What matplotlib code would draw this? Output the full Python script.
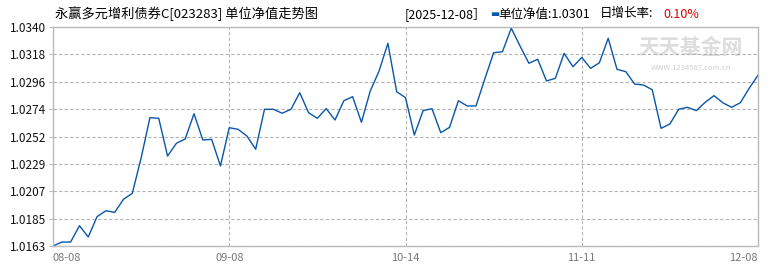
import matplotlib
matplotlib.use('Agg')
import matplotlib.pyplot as plt
import numpy as np

plt.rcParams['font.family'] = ['Noto Sans CJK SC', 'DejaVu Sans']

# unit NAV, one point per trading day, 08-08 .. 12-08
nav = [1.0163, 1.01662, 1.01662, 1.01794, 1.01703, 1.01867, 1.01915, 1.01902, 1.02008, 1.02056,
       1.02341, 1.02667, 1.02662, 1.02357, 1.02460, 1.02495, 1.02699, 1.02487, 1.02492, 1.02277,
       1.02586, 1.02573, 1.02519, 1.02412, 1.02735, 1.02735, 1.02703, 1.02735, 1.02869, 1.02707,
       1.02662, 1.02741, 1.02648, 1.02804, 1.02837, 1.02630, 1.02883, 1.03044, 1.03268, 1.02877,
       1.02829, 1.02527, 1.02724, 1.02740, 1.02546, 1.02589, 1.02804, 1.02762, 1.02762, 1.02980,
       1.03192, 1.03200, 1.03390, 1.03246, 1.03107, 1.03139, 1.02964, 1.02985, 1.03187, 1.03079,
       1.03154, 1.03066, 1.03111, 1.03309, 1.03058, 1.03039, 1.02939, 1.02931, 1.02893, 1.02581,
       1.02616, 1.02735, 1.02751, 1.02724, 1.02791, 1.02845, 1.02788, 1.02751, 1.02788, 1.02905,
       1.0301]
date_labels = ['08-08', '09-08', '10-14', '11-11', '12-08']
y_min, y_max = 1.0163, 1.0340

fund_title = '永赢多元增利债券C[023283] 单位净值走势图'
last_date = '[2025-12-08］'
last_nav = '单位净值:1.0301'
day_growth = '0.10%'

fig = plt.figure(figsize=(7.7, 2.7), dpi=100)
ax = fig.add_axes([53 / 770, 24 / 270, 705 / 770, 219 / 270])

x = np.arange(len(nav))
ax.plot(x, nav, color='#0a56a8', lw=1.0)

ax.set_xlim(0, len(nav) - 1)
ax.set_ylim(y_min, y_max)
ax.set_xticks(np.linspace(0, len(nav) - 1, len(date_labels)))
ax.set_xticklabels(date_labels, color='#777777', fontsize=8)
xl = ax.get_xticklabels()
xl[0].set_ha('left')
xl[-1].set_ha('right')
yt = np.linspace(y_min, y_max, 9)
ax.set_yticks(yt)
ax.set_yticklabels([f'{v:.4f}' for v in yt], fontsize=8.5, color='#111111')
ax.tick_params(axis='y', length=3, color='#bbbbbb', pad=2)
ax.tick_params(axis='x', length=0, pad=5)

ax.grid(True, color='#b4b4b4', ls=(0, (3, 2)), lw=0.8)
for s in ax.spines.values():
    s.set_color('#bbbbbb')
    s.set_linewidth(1)

# header
fig.text(55 / 770, 1 - 14 / 270, fund_title, fontsize=9.5, va='center', ha='left')
fig.text(405 / 770, 1 - 14 / 270, last_date, fontsize=9, va='center', ha='left')
fig.text(490 / 770, 1 - 14 / 270, '▬', fontsize=7, color='#0a56a8', va='center', ha='left')
fig.text(498 / 770, 1 - 14 / 270, last_nav, fontsize=9, va='center', ha='left')
fig.text(600 / 770, 1 - 14 / 270, '日增长率:', fontsize=9, va='center', ha='left')
fig.text(663 / 770, 1 - 14 / 270, day_growth, fontsize=9, color='#dd0000', va='center', ha='left')

# watermark
ax.text(0.905, 0.905, '天天基金网', transform=ax.transAxes, fontsize=15, fontweight='bold',
        color='#dddddd', ha='center', va='center', zorder=0)
ax.text(0.905, 0.815, 'WWW.1234567.com.cn', transform=ax.transAxes, fontsize=5.5,
        color='#d0d0d0', ha='center', va='center', zorder=0)

fig.savefig('out.png', dpi=100)
